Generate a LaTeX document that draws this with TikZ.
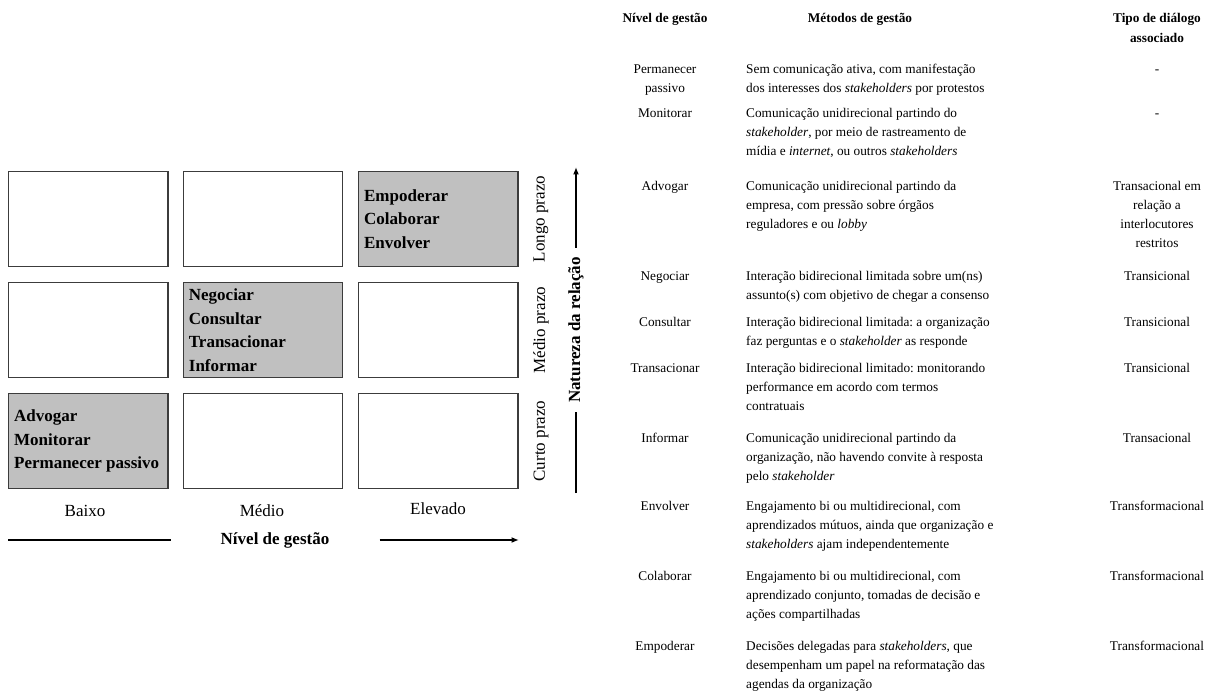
\documentclass[tikz,border=0pt]{standalone}
\usepackage{fontspec}
\setmainfont{Liberation Serif}
\usetikzlibrary{arrows.meta}
\definecolor{cellgray}{RGB}{192,192,192}
\definecolor{cellrule}{RGB}{60,60,60}
\frenchspacing

\begin{document}
\begin{tikzpicture}[x=1pt,y=-1pt,
  gridbox/.style={draw=cellrule, line width=1.1pt, minimum width=159.5pt,
    minimum height=95.5pt, inner sep=0pt},
  filled/.style={gridbox, fill=cellgray},
  boxtext/.style={anchor=west, align=left, inner sep=0pt,
    font=\fontsize{17}{23.6}\selectfont\bfseries},
  axislabel/.style={font=\fontsize{17}{20}\selectfont, inner sep=0pt},
  axistitle/.style={font=\fontsize{17}{20}\selectfont\bfseries},
  axisline/.style={line width=1.5pt},
  axisarrow/.style={line width=1.5pt, -{Latex[length=7.5pt,width=6pt]}},
  % every table cell starts with \strut, so its top lies 13.3pt above the first baseline
  tabcell/.style={font=\fontsize{13.3}{19}\selectfont, inner sep=0pt,
    anchor=north, yshift=13.3pt},
  colname/.style={tabcell, align=center, font=\fontsize{13.3}{20}\selectfont\bfseries},
  levelcell/.style={tabcell, align=center},
  methodcell/.style={tabcell, anchor=north west, align=left},
  dialogcell/.style={tabcell, align=center}]

\useasboundingbox (0,0) rectangle (1210,695);

% ---------- matrix of management levels ----------
\node[gridbox] (b11) at (88.25,219) {};
\node[gridbox] (b12) at (263,219) {};
\node[filled]  (b13) at (438.25,219) {};
\node[gridbox] (b21) at (88.25,330) {};
\node[filled]  (b22) at (263,330) {};
\node[gridbox] (b23) at (438.25,330) {};
\node[filled]  (b31) at (88.25,441) {};
\node[gridbox] (b32) at (263,441) {};
\node[gridbox] (b33) at (438.25,441) {};

\node[boxtext] (t13) at ([xshift=6pt]b13.west) {Empoderar\\Colaborar\\Envolver};
\node[boxtext] (t22) at ([xshift=6pt]b22.west) {Negociar\\Consultar\\Transacionar\\Informar};
\node[boxtext] (t31) at ([xshift=6pt]b31.west) {Advogar\\Monitorar\\Permanecer passivo};

% horizontal axis
\node[axislabel] (low)  at (85,511)  {Baixo};
\node[axislabel] (mid)  at (262,511) {Médio};
\node[axislabel] (high) at (438,509) {Elevado};
\node[axistitle, inner xsep=50pt, inner ysep=0pt] (htitle) at (275,540) {Nível de gestão};
\coordinate (hstart) at (8,540);
\coordinate (hend) at (519,540);
\draw[axisline] (hstart) -- (htitle.west);
\draw[axisarrow] (htitle.east) -- (hend);

% vertical axis
\node[axislabel, rotate=90] (long)  at (541,219) {Longo prazo};
\node[axislabel, rotate=90] (medium) at (541,330) {Médio prazo};
\node[axislabel, rotate=90] (short) at (541,441) {Curto prazo};
\node[axistitle, rotate=90, inner xsep=9pt, inner ysep=0pt] (vtitle) at (576,330) {Natureza da relação};
\coordinate (vstart) at (576,493);
\coordinate (vend) at (576,167);
\draw[axisline] (vstart) -- (vtitle.west);
\draw[axisarrow] (vtitle.east) -- (vend);

% ---------- table of management methods ----------
\node[colname] (h1) at (665,21.5)  {\strut Nível de gestão};
\node[colname] (h2) at (860,21.5)  {\strut Métodos de gestão};
\node[colname] (h3) at (1157,21.5) {\strut Tipo de diálogo\\associado};

\node[levelcell] (l1) at (665,73) {\strut Permanecer\\passivo};
\node[methodcell] (m1) at (746,73) {\strut Sem comunicação ativa, com manifestação\\dos interesses dos \textit{stakeholders} por protestos};
\node[dialogcell] (d1) at (1157,73) {\strut -};

\node[levelcell] (l2) at (665,117.5) {\strut Monitorar};
\node[methodcell] (m2) at (746,117.5) {\strut Comunicação unidirecional partindo do\\\textit{stakeholder}, por meio de rastreamento de\\mídia e \textit{internet}, ou outros \textit{stakeholders}};
\node[dialogcell] (d2) at (1157,117.5) {\strut -};

\node[levelcell] (l3) at (665,190.5) {\strut Advogar};
\node[methodcell] (m3) at (746,190.5) {\strut Comunicação unidirecional partindo da\\empresa, com pressão sobre órgãos\\reguladores e ou \textit{lobby}};
\node[dialogcell] (d3) at (1157,190.5) {\strut Transacional em\\relação a\\interlocutores\\restritos};

\node[levelcell] (l4) at (665,280.5) {\strut Negociar};
\node[methodcell] (m4) at (746,280.5) {\strut Interação bidirecional limitada sobre um(ns)\\assunto(s) com objetivo de chegar a consenso};
\node[dialogcell] (d4) at (1157,280.5) {\strut Transicional};

\node[levelcell] (l5) at (665,326.5) {\strut Consultar};
\node[methodcell] (m5) at (746,326.5) {\strut Interação bidirecional limitada: a organização\\faz perguntas e o \textit{stakeholder} as responde};
\node[dialogcell] (d5) at (1157,326.5) {\strut Transicional};

\node[levelcell] (l6) at (665,372.5) {\strut Transacionar};
\node[methodcell] (m6) at (746,372.5) {\strut Interação bidirecional limitado: monitorando\\performance em acordo com termos\\contratuais};
\node[dialogcell] (d6) at (1157,372.5) {\strut Transicional};

\node[levelcell] (l7) at (665,442.5) {\strut Informar};
\node[methodcell] (m7) at (746,442.5) {\strut Comunicação unidirecional partindo da\\organização, não havendo convite à resposta\\pelo \textit{stakeholder}};
\node[dialogcell] (d7) at (1157,442.5) {\strut Transacional};

\node[levelcell] (l8) at (665,510.5) {\strut Envolver};
\node[methodcell] (m8) at (746,510.5) {\strut Engajamento bi ou multidirecional, com\\aprendizados mútuos, ainda que organização e\\\textit{stakeholders} ajam independentemente};
\node[dialogcell] (d8) at (1157,510.5) {\strut Transformacional};

\node[levelcell] (l9) at (665,580.5) {\strut Colaborar};
\node[methodcell] (m9) at (746,580.5) {\strut Engajamento bi ou multidirecional, com\\aprendizado conjunto, tomadas de decisão e\\ações compartilhadas};
\node[dialogcell] (d9) at (1157,580.5) {\strut Transformacional};

\node[levelcell] (l10) at (665,650.5) {\strut Empoderar};
\node[methodcell] (m10) at (746,650.5) {\strut Decisões delegadas para \textit{stakeholders}, que\\desempenham um papel na reformatação das\\agendas da organização};
\node[dialogcell] (d10) at (1157,650.5) {\strut Transformacional};

\end{tikzpicture}
\end{document}
